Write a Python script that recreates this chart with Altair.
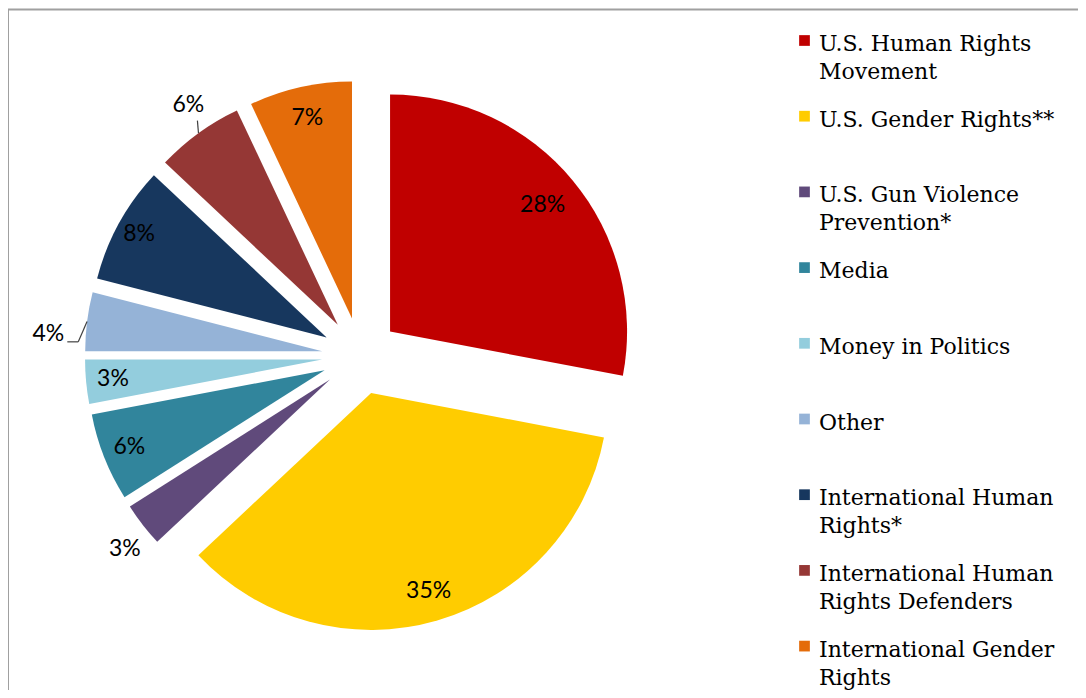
import math
import altair as alt
import pandas as pd

# ---- data ----
categories = [
    "U.S. Human Rights Movement",
    "U.S. Gender Rights**",
    "U.S. Gun Violence Prevention*",
    "Media",
    "Money in Politics",
    "Other",
    "International Human Rights*",
    "International Human Rights Defenders",
    "International Gender Rights",
]
values = [28, 35, 3, 6, 3, 4, 8, 6, 7]
legend_labels = [
    "U.S. Human Rights\nMovement",
    "U.S. Gender Rights**",
    "U.S. Gun Violence\nPrevention*",
    "Media",
    "Money in Politics",
    "Other",
    "International Human\nRights*",
    "International Human\nRights Defenders",
    "International Gender\nRights",
]
colors = ["#C00000", "#FFCC00", "#604A7B", "#31859C", "#93CDDD",
          "#95B3D7", "#17375E", "#953735", "#E46C0A"]

# ---- styling (label placement) ----
label_r = [198, 206, 266, 210, 210, 266, 214, 266, 205]
label_dx = [0, 0, 5, 0, 0, -10, 0, 7, 0]
label_dy = [0, 0, 6, 0, 0, 16, 0, -5, 0]
leader = [0, 0, 0, 0, 0, 1, 0, 1, 0]
elbow_dx = [0, 0, 0, 0, 0, 30, 0, 9, 0]
elbow_dy = [0, 0, 0, 0, 0, 8, 0, 16, 0]
end_dx = [0, 0, 0, 0, 0, 19, 0, 9, 0]
end_dy = [0, 0, 0, 0, 0, 8, 0, 16, 0]

CX, CY, D, R = 352.4, 348.0, 38.5, 237.0
W, H = 1070, 682

df = pd.DataFrame({
    "idx": list(range(len(categories))),
    "category": categories,
    "value": values,
    "legend_label": legend_labels,
    "label_r": label_r, "label_dx": label_dx, "label_dy": label_dy,
    "leader": leader,
    "elbow_dx": elbow_dx, "elbow_dy": elbow_dy,
    "end_dx": end_dx, "end_dy": end_dy,
})

color_scale = alt.Scale(domain=categories, range=colors)
theta_scale = alt.Scale(domain=[0, 100], range=[0, 2 * math.pi])

base = (
    alt.Chart(df)
    .transform_window(cum_end="sum(value)", sort=[alt.SortField("idx")], frame=[None, 0])
    .transform_calculate(cum_start="datum.cum_end - datum.value")
    .transform_calculate(mid="(datum.cum_start + datum.value / 2) * 2 * PI / 100")
    .transform_calculate(ax=f"{CX} + {D} * sin(datum.mid)")
    .transform_calculate(ay=f"{CY} - {D} * cos(datum.mid)")
    .transform_calculate(lx="datum.ax + datum.label_r * sin(datum.mid) + datum.label_dx")
    .transform_calculate(ly="datum.ay - datum.label_r * cos(datum.mid) + datum.label_dy")
    .transform_calculate(ox=f"datum.ax + {R} * sin(datum.mid)")
    .transform_calculate(oy=f"datum.ay - {R} * cos(datum.mid)")
    .transform_calculate(ex="datum.lx + datum.elbow_dx", ey="datum.ly + datum.elbow_dy")
    .transform_calculate(fx="datum.lx + datum.end_dx", fy="datum.ly + datum.end_dy")
    .transform_calculate(lab="datum.value + '%'")
    .transform_calculate(ty="43 + datum.idx * 75.7")
    .transform_calculate(sy="datum.ty - 10.5")
)

px = lambda f: alt.X(f, type="quantitative", scale=None, axis=None)
py = lambda f: alt.Y(f, type="quantitative", scale=None, axis=None)

arcs = base.mark_arc(outerRadius=R, innerRadius=0).encode(
    theta=alt.Theta("cum_start:Q", scale=theta_scale, stack=None),
    theta2="cum_end:Q",
    x=px("ax"),
    y=py("ay"),
    color=alt.Color("category:N", scale=color_scale, legend=None),
)

labels = base.mark_text(font="Lato", fontSize=23, color="#000000",
                        align="center", baseline="middle").encode(
    x=px("lx"), y=py("ly"), text="lab:N"
)

lead1 = base.transform_filter("datum.leader == 1").mark_rule(
    color="#404040", strokeWidth=1.2).encode(
    x=px("ox"), y=py("oy"), x2="ex:Q", y2="ey:Q")
lead2 = base.transform_filter("datum.leader == 1").mark_rule(
    color="#404040", strokeWidth=1.2).encode(
    x=px("ex"), y=py("ey"), x2="fx:Q", y2="fy:Q")

leg_sym = base.mark_square(size=115, opacity=1).encode(
    x=alt.value(796.5), y=py("sy"),
    color=alt.Color("category:N", scale=color_scale, legend=None),
)
leg_txt = base.mark_text(font="DejaVu Serif", fontSize=22, color="#000000",
                         align="left", baseline="alphabetic",
                         lineBreak="\n", lineHeight=28).encode(
    x=alt.value(811), y=py("ty"), text="legend_label:N"
)

frame_data = alt.Data(values=[{"k": 0}])
border_top = alt.Chart(frame_data).mark_rule(color="#A0A0A0", strokeWidth=2).encode(
    x=alt.value(0), x2=alt.value(W), y=alt.value(1.5))
border_left = alt.Chart(frame_data).mark_rule(color="#A0A0A0", strokeWidth=2).encode(
    x=alt.value(0), y=alt.value(1.5), y2=alt.value(H))

chart = alt.layer(
    border_top, border_left, arcs, lead1, lead2, labels, leg_sym, leg_txt
).properties(
    width=W, height=H, padding=0, autosize="none"
).configure_view(stroke=None)

chart.save("out.html", embed_options={"renderer": "svg", "actions": False})
